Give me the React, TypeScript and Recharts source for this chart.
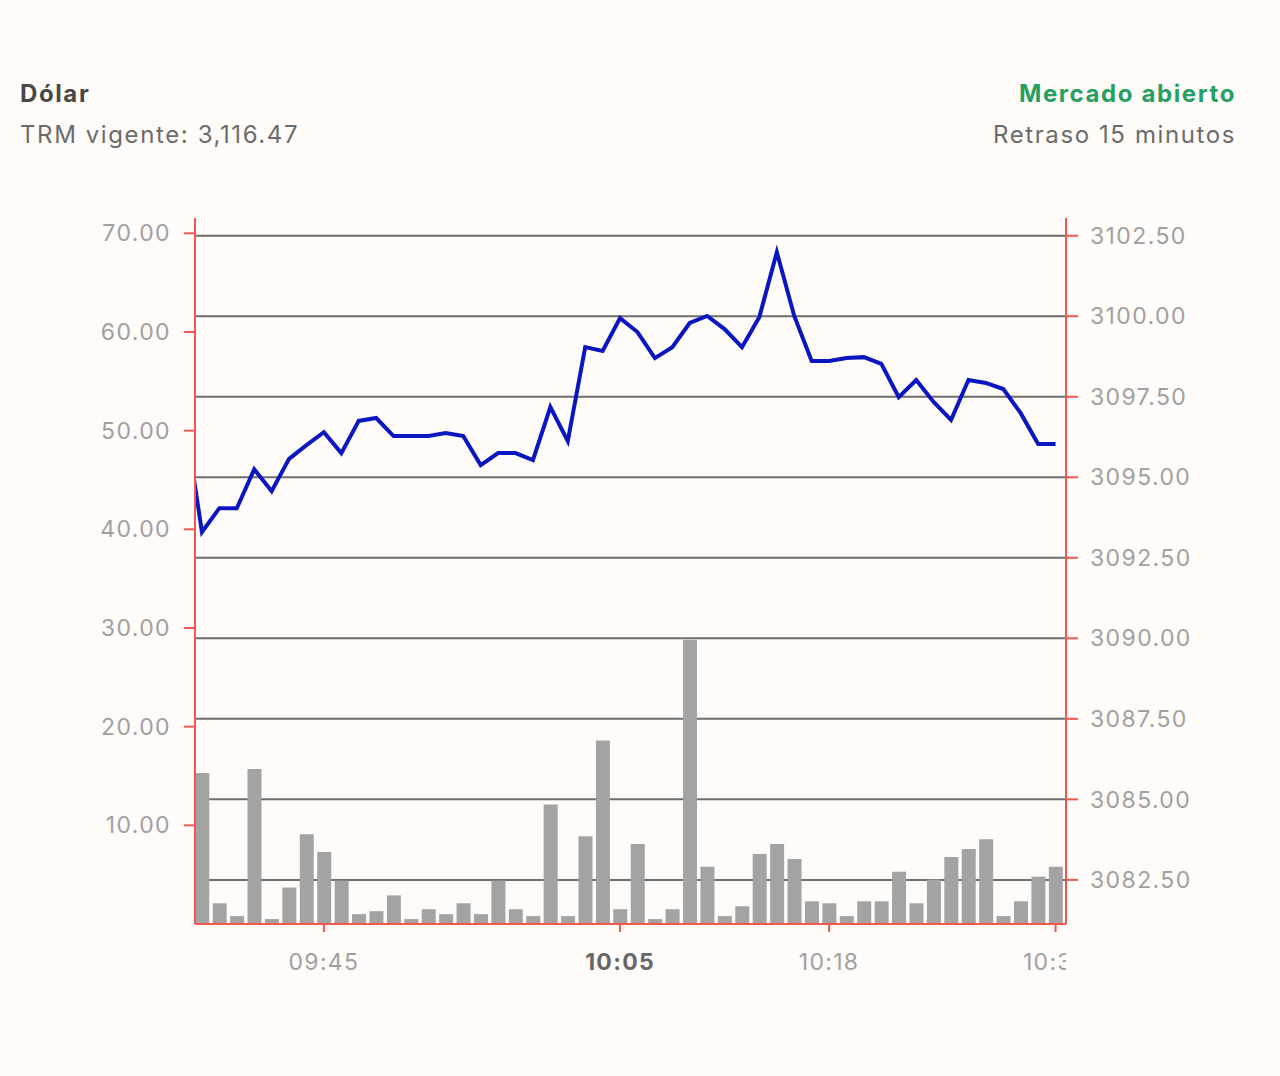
import { ComposedChart, Bar, Line, XAxis, YAxis, CartesianGrid } from 'recharts';

// slot 0 is the point just before the visible window: the line enters from it, it has no bar
const PRICE = [
  3096.87, 3093.3, 3094.04, 3094.04, 3095.25, 3094.57, 3095.57, 3096.0, 3096.4, 3095.75,
  3096.75, 3096.84, 3096.28, 3096.28, 3096.28, 3096.37, 3096.28, 3095.38, 3095.75, 3095.75,
  3095.53, 3097.18, 3096.12, 3099.04, 3098.92, 3099.94, 3099.51, 3098.7, 3099.04, 3099.79,
  3100.01, 3099.6, 3099.04, 3099.98, 3101.99, 3100.01, 3098.61, 3098.61, 3098.7, 3098.73,
  3098.52, 3097.49, 3098.02, 3097.34, 3096.78, 3098.02, 3097.93, 3097.74, 3096.99, 3096.03,
  3096.03,
];

const VOLUME = [
  null, 15.3, 2.1, 0.8, 15.7, 0.5, 3.7, 9.1, 7.3, 4.4,
  1.0, 1.3, 2.9, 0.5, 1.5, 1.0, 2.1, 1.0, 4.4, 1.5,
  0.8, 12.1, 0.8, 8.9, 18.6, 1.5, 8.1, 0.5, 1.5, 28.8,
  5.8, 0.8, 1.8, 7.1, 8.1, 6.6, 2.3, 2.1, 0.8, 2.3,
  2.3, 5.3, 2.1, 4.5, 6.8, 7.6, 8.6, 0.8, 2.3, 4.8,
  5.8,
];

const TIME_TICKS = [8, 25, 37, 50];
const TIME_LABELS = ['09:45', '10:05', '10:18', '10:32'];
const BOLD_TICK = 25;

const VOLUME_TICKS = [10, 20, 30, 40, 50, 60, 70];
const PRICE_TICKS = [3082.5, 3085, 3087.5, 3090, 3092.5, 3095, 3097.5, 3100, 3102.5];

const ROWS = PRICE.map((price, slot) => ({ slot, price, volume: VOLUME[slot] }));

const FONT = 'Inter, "DejaVu Sans", sans-serif';
const AXIS_RED = '#f2574f';
const TICK_GREY = '#a0a0a0';
const PLOT_RIGHT = 1066;

const TimeTick = (props: any) => {
  const { x, y, payload } = props;
  const idx = TIME_TICKS.indexOf(payload.value);
  const label = idx >= 0 ? TIME_LABELS[idx] : '';
  const bold = payload.value === BOLD_TICK;
  const clipId = `time-clip-${payload.value}`;
  return (
    <g>
      <defs>
        <clipPath id={clipId}>
          <rect x={x - 80} y={y - 10} width={PLOT_RIGHT - (x - 80)} height={60} />
        </clipPath>
      </defs>
      <text
        x={x}
        y={y}
        dy="0.71em"
        textAnchor="middle"
        clipPath={`url(#${clipId})`}
        fill={bold ? '#666666' : TICK_GREY}
        fontWeight={bold ? 700 : 400}
        fontSize={23}
        letterSpacing={1.3}
        fontFamily={FONT}
      >
        {label}
      </text>
    </g>
  );
};

const headText = {
  position: 'absolute' as const,
  fontFamily: FONT,
  fontSize: 24,
  lineHeight: '28px',
  letterSpacing: '1.6px',
  whiteSpace: 'nowrap' as const,
};

const tickStyle = { fill: TICK_GREY, fontSize: 23, fontFamily: FONT, letterSpacing: 1.4 };

export default function App() {
  return (
    <div
      style={{
        position: 'absolute',
        top: 0,
        left: 0,
        width: 1280,
        height: 1076,
        background: '#fffbf9',
        overflow: 'hidden',
      }}
    >
      {/* Header */}
      <div style={{ ...headText, left: 20, top: 80, fontWeight: 700, color: '#474747' }}>Dólar</div>
      <div style={{ ...headText, left: 20, top: 121, color: '#6b6b6b' }}>TRM vigente: 3,116.47</div>
      <div style={{ ...headText, right: 44, top: 80, fontWeight: 700, color: '#24a064' }}>
        Mercado abierto
      </div>
      <div style={{ ...headText, right: 44, top: 121, color: '#6b6b6b' }}>Retraso 15 minutos</div>

      <div style={{ position: 'absolute', top: 0, left: 0 }}>
        <ComposedChart
          width={1280}
          height={1000}
          data={ROWS}
          margin={{ top: 218, right: 114, bottom: 26, left: 115 }}
        >
          <CartesianGrid
            yAxisId="right"
            vertical={false}
            syncWithTicks
            stroke="#6e6e6e"
            strokeWidth={2}
          />
          <XAxis
            dataKey="slot"
            type="number"
            domain={[0.6, 50.6]}
            allowDataOverflow
            ticks={TIME_TICKS}
            interval={0}
            height={50}
            tickSize={8}
            tickMargin={22}
            axisLine={{ stroke: AXIS_RED, strokeWidth: 2 }}
            tickLine={{ stroke: AXIS_RED, strokeWidth: 2 }}
            tick={<TimeTick />}
          />
          <YAxis
            yAxisId="left"
            orientation="left"
            type="number"
            domain={[0, 71.55]}
            allowDataOverflow
            ticks={VOLUME_TICKS}
            interval={0}
            width={80}
            tickSize={11}
            tickMargin={13}
            tickFormatter={(v: number) => v.toFixed(2)}
            axisLine={{ stroke: AXIS_RED, strokeWidth: 2 }}
            tickLine={{ stroke: AXIS_RED, strokeWidth: 2 }}
            tick={tickStyle}
          />
          <YAxis
            yAxisId="right"
            orientation="right"
            type="number"
            domain={[3081.13, 3103.05]}
            allowDataOverflow
            ticks={PRICE_TICKS}
            interval={0}
            width={100}
            tickSize={12}
            tickMargin={12}
            tickFormatter={(v: number) => v.toFixed(2)}
            axisLine={{ stroke: AXIS_RED, strokeWidth: 2 }}
            tickLine={{ stroke: AXIS_RED, strokeWidth: 2 }}
            tick={tickStyle}
          />
          <Bar
            yAxisId="left"
            dataKey="volume"
            fill="#a3a3a3"
            barSize={14}
            isAnimationActive={false}
          />
          <Line
            yAxisId="right"
            dataKey="price"
            type="linear"
            stroke="#0a17c0"
            strokeWidth={4}
            dot={false}
            activeDot={false}
            isAnimationActive={false}
          />
        </ComposedChart>
      </div>
    </div>
  );
}
